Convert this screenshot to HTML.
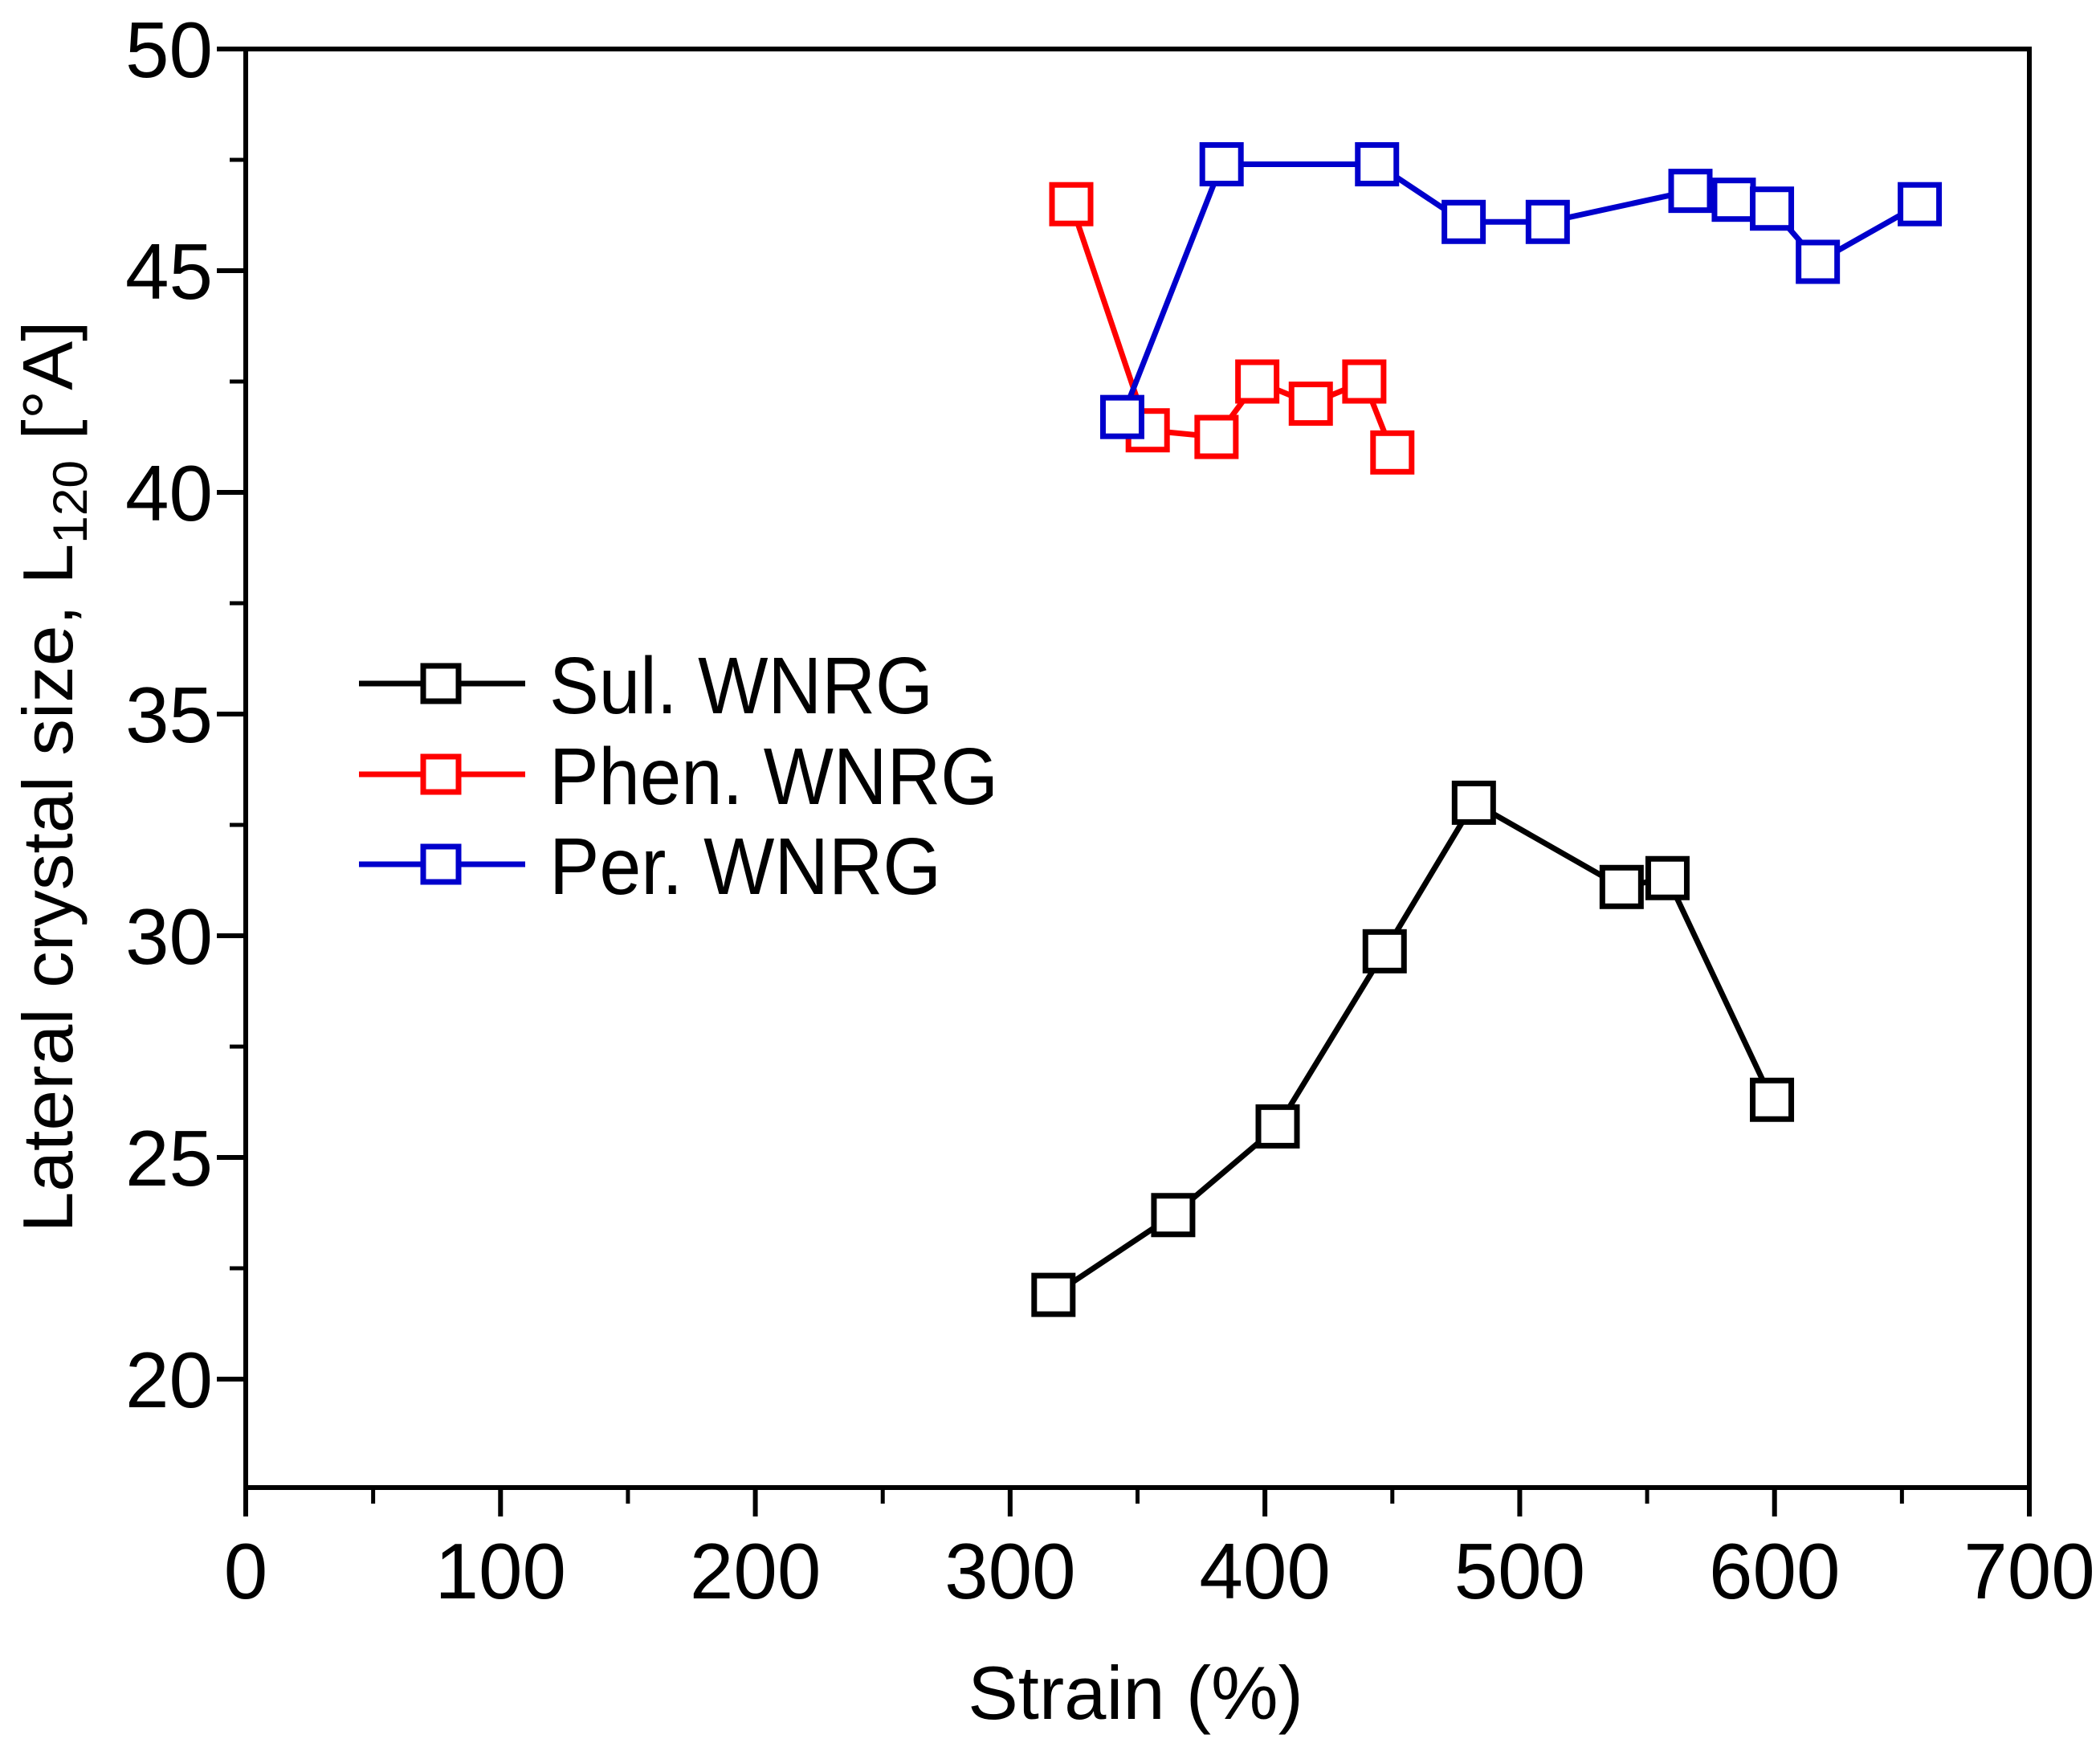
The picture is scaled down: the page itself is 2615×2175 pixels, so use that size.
<!DOCTYPE html>
<html><head><meta charset="utf-8"><style>
html,body{margin:0;padding:0;background:#fff;}
svg{display:block;font-family:"Liberation Sans",Arial,sans-serif;}
</style></head><body>
<svg id="chart" width="2615" height="2175" viewBox="0 0 2615 2175">
<g id="axes"></g><g id="series"></g><g id="legend"></g>
</svg>
<script>
const xTicks = [0,100,200,300,400,500,600,700];
const yTicks = [20,25,30,35,40,45,50];
const sulX = [317,364,405,447,482,540,558,599];
const sulY = [21.9,23.7,25.7,29.65,33.0,31.1,31.3,26.3];
const phenX = [324,354,381,397,418,439,450];
const phenY = [46.5,41.4,41.25,42.5,42.0,42.5,40.9];
const perX = [344,383,444,478,511,567,584,599,617,657];
const perY = [41.7,47.4,47.4,46.1,46.1,46.8,46.6,46.4,45.2,46.5];
const seriesNames = ["Sul. WNRG","Phen. WNRG","Per. WNRG"];

const L=306,R=2527,T=61,B=1852;
const xMin=0,xMax=700,yTop=50,yPx=55.2;
const xs=v=>L+(v-xMin)/(xMax-xMin)*(R-L);
const ys=v=>T+(yTop-v)*yPx;
const NS="http://www.w3.org/2000/svg";
function mk(tag,attrs,parent){const e=document.createElementNS(NS,tag);for(const k in attrs)e.setAttribute(k,attrs[k]);parent.appendChild(e);return e;}
const axes=document.getElementById('axes');
const frame=mk('rect',{x:L,y:T,width:R-L,height:B-T,fill:'none',stroke:'#000','stroke-width':6},axes);


xTicks.forEach((v,i)=>{
  const x=xs(v);
  const t=mk('line',{x1:x,x2:x,y1:B,y2:B+36,stroke:'#000','stroke-width':6},axes);
  
  
  if(i<xTicks.length-1){const xm=xs(v+50);
    const m=mk('line',{x1:xm,x2:xm,y1:B,y2:B+20,stroke:'#000','stroke-width':5},axes);
    
    }
  const lb=mk('text',{x:x,y:1990,'font-size':98,'text-anchor':'middle',fill:'#000'},axes);
  lb.textContent=v;
  
  
});
yTicks.forEach((v,i)=>{
  const y=ys(v);
  const t=mk('line',{x1:L-36,x2:L,y1:y,y2:y,stroke:'#000','stroke-width':6},axes);
  
  
  const lb=mk('text',{x:265,y:y+35,'font-size':98,'text-anchor':'end',fill:'#000'},axes);
  lb.textContent=v;
  
  
});
[17.5,22.5,27.5,32.5,37.5,42.5,47.5].forEach(v=>{const y=ys(v);if(y>B)return;
  const m=mk('line',{x1:L-20,x2:L,y1:y,y2:y,stroke:'#000','stroke-width':5},axes);
  
  });
const xt=mk('text',{x:1414,y:2140,'font-size':94,'text-anchor':'middle',fill:'#000'},axes);
xt.textContent='Strain (%)';


const yt=mk('text',{x:0,y:0,'font-size':88,'text-anchor':'middle',fill:'#000',transform:'translate(90,967) rotate(-90)',textLength:1135,lengthAdjust:'spacingAndGlyphs'},axes);
yt.innerHTML='Lateral crystal size, L<tspan font-size="60" dy="18">120</tspan><tspan dy="-18"> [°A]</tspan>';



const sg=document.getElementById('series');
const all=[[sulX,sulY,'#000','sul-wnrg'],[phenX,phenY,'#f00','phen-wnrg'],[perX,perY,'#00c','per-wnrg']];
all.forEach(([X,Y,c,n])=>{
  const g=mk('g',{},sg);
  
  
  const pl=mk('polyline',{points:X.map((x,i)=>xs(x)+','+ys(Y[i])).join(' '),fill:'none',stroke:c,'stroke-width':7},g);
  
  
  X.forEach((x,i)=>{
    const r=mk('rect',{x:xs(x)-24,y:ys(Y[i])-24,width:48,height:48,fill:'#fff',stroke:c,'stroke-width':7},g);
    
    
  });
});
const lg=document.getElementById('legend');


const lys=[851,964,1076],lcs=['#000','#f00','#00c'],lw=[478,559,488];
seriesNames.forEach((s,i)=>{
  const g=mk('g',{},lg);
  
  
  mk('line',{x1:447,x2:654,y1:lys[i],y2:lys[i],stroke:lcs[i],'stroke-width':7},g);
  mk('rect',{x:527,y:lys[i]-22,width:44,height:44,fill:'#fff',stroke:lcs[i],'stroke-width':7},g);
  const t=mk('text',{x:684,y:lys[i]+37,'font-size':100,fill:'#000',textLength:lw[i],lengthAdjust:'spacingAndGlyphs'},g);
  t.textContent=s;
});
</script>
</body></html>
